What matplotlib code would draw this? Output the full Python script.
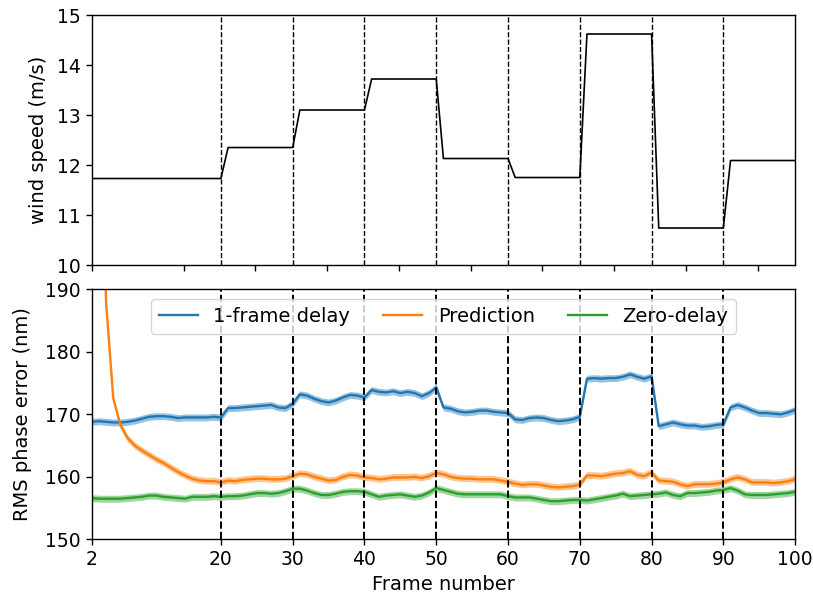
import numpy as np
import matplotlib
matplotlib.use("Agg")
import matplotlib.pyplot as plt

# ---- data ----
wind_frames = [2, 20, 21, 30, 31, 40, 41, 50, 51, 60, 61, 70, 71, 80, 81, 90, 91, 100]
wind_speed = [11.73, 11.73, 12.35, 12.35, 13.10, 13.10, 13.72, 13.72, 12.13, 12.13,
              11.75, 11.75, 14.62, 14.62, 10.74, 10.74, 12.09, 12.09]

frames = list(range(2, 101))

delay_1frame = [168.8, 168.9, 168.8, 168.7, 168.7, 168.8, 169.0, 169.3, 169.6, 169.7,
                169.7, 169.6, 169.4, 169.5, 169.5, 169.5, 169.5, 169.6, 169.5, 171.0,
                171.0, 171.1, 171.2, 171.3, 171.4, 171.5, 171.1, 171.0, 171.7, 173.2,
                173.0, 172.5, 172.1, 171.9, 172.2, 172.7, 173.1, 173.0, 172.7, 173.9,
                173.6, 173.5, 173.7, 173.4, 173.6, 173.4, 172.9, 173.4, 174.3, 171.1,
                170.9, 170.5, 170.3, 170.4, 170.6, 170.6, 170.4, 170.3, 170.2, 169.2,
                169.1, 169.4, 169.5, 169.4, 169.1, 168.9, 169.0, 169.2, 169.6, 175.7,
                175.8, 175.7, 175.8, 175.8, 176.0, 176.4, 176.0, 175.7, 176.1, 168.1,
                168.4, 168.7, 168.4, 168.2, 168.2, 168.0, 168.1, 168.3, 168.4, 171.1,
                171.5, 171.1, 170.6, 170.2, 170.2, 170.1, 170.0, 170.3, 170.7]

prediction = [300.0, 235.0, 188.0, 172.6, 168.3, 166.2, 165.0, 164.2, 163.5, 162.8,
              162.2, 161.5, 160.8, 160.2, 159.7, 159.4, 159.3, 159.3, 159.1, 159.4,
              159.3, 159.5, 159.6, 159.7, 159.7, 159.6, 159.6, 159.7, 160.1, 160.5,
              160.4, 160.0, 159.7, 159.4, 159.5, 160.0, 160.3, 160.2, 159.9, 159.8,
              159.6, 159.7, 159.9, 159.9, 159.9, 160.0, 159.8, 160.1, 160.6, 160.4,
              160.0, 159.8, 159.7, 159.7, 159.6, 159.6, 159.6, 159.4, 159.2, 158.9,
              158.7, 158.8, 158.8, 158.6, 158.4, 158.3, 158.4, 158.5, 158.7, 160.2,
              160.2, 160.1, 160.3, 160.5, 160.6, 160.9, 160.3, 160.1, 160.7, 159.4,
              159.3, 159.2, 158.8, 158.5, 158.8, 158.8, 158.8, 158.9, 159.1, 159.6,
              159.9, 159.6, 159.1, 159.1, 159.1, 159.0, 159.1, 159.3, 159.6]

zero_delay = [156.6, 156.5, 156.5, 156.5, 156.5, 156.6, 156.7, 156.8, 157.0, 157.0,
              156.8, 156.7, 156.6, 156.5, 156.8, 156.8, 156.8, 156.9, 156.8, 156.9,
              156.9, 157.0, 157.2, 157.4, 157.4, 157.3, 157.4, 157.7, 158.1, 158.1,
              157.8, 157.4, 157.1, 157.1, 157.3, 157.6, 157.7, 157.7, 157.6, 157.2,
              156.8, 157.0, 157.1, 157.2, 157.0, 156.8, 157.0, 157.5, 158.2, 157.9,
              157.6, 157.3, 157.2, 157.2, 157.2, 157.2, 157.2, 157.2, 156.9, 156.7,
              156.7, 156.7, 156.5, 156.3, 156.1, 156.1, 156.2, 156.3, 156.3, 156.2,
              156.4, 156.6, 156.8, 157.0, 157.3, 156.9, 157.0, 157.1, 157.2, 157.3,
              157.5, 157.1, 156.9, 157.4, 157.4, 157.5, 157.6, 157.8, 157.9, 158.2,
              157.8, 157.2, 157.1, 157.1, 157.1, 157.2, 157.3, 157.4, 157.6]

band_halfwidth = 0.55

series_labels = ["1-frame delay", "Prediction", "Zero-delay"]
series_colors = ["#1f77b4", "#ff7f0e", "#2ca02c"]
bottom_xticks = [2, 20, 30, 40, 50, 60, 70, 80, 90, 100]
top_xticks = [2, 14.8, 24.8, 34.8, 44.8, 54.8, 64.8, 74.8, 84.8, 94.8]
change_frames = [20, 30, 40, 50, 60, 70, 80, 90]

# ---- figure ----
plt.rcParams['font.family'] = ['DejaVu Sans']
plt.rcParams['font.size'] = 14
fig = plt.figure(figsize=(8.13, 6.03), dpi=100)
ax1 = fig.add_axes([0.1128, 0.5605, 0.978 - 0.1128, 0.9751 - 0.5605])
ax2 = fig.add_axes([0.1128, 0.1056, 0.978 - 0.1128, 0.5202 - 0.1056])

for ax in (ax1, ax2):
    for s in ax.spines.values():
        s.set_linewidth(1.0)
    ax.tick_params(width=1.0, length=4.5, labelsize=13.5)

ax1.plot(wind_frames, wind_speed, color='black', lw=1.2)
for f in change_frames:
    ax1.axvline(f, color='black', ls='--', lw=1.0)
ax1.set_xlim(2, 100)
ax1.set_ylim(10, 15)
ax1.set_xticks(top_xticks)
ax1.set_xticklabels([])
ax1.set_yticks([10, 11, 12, 13, 14, 15])
ax1.set_ylabel("wind speed (m/s)", fontsize=14, labelpad=6)

x = np.array(frames)
for data, lab, col in zip([delay_1frame, prediction, zero_delay], series_labels, series_colors):
    y = np.array(data)
    ax2.plot(x, y, color=col, lw=1.7, label=lab)
    ax2.fill_between(x, y - band_halfwidth, y + band_halfwidth, color=col, alpha=0.45, lw=0)
for f in change_frames:
    ax2.axvline(f, color='black', ls='--', lw=1.4)
ax2.set_xlim(2, 100)
ax2.set_ylim(150, 190)
ax2.set_yticks([150, 160, 170, 180, 190])
ax2.set_xticks(bottom_xticks)
ax2.set_xlabel("Frame number", fontsize=14)
ax2.set_ylabel("RMS phase error (nm)", fontsize=14, labelpad=9)
ax2.legend(loc='upper center', ncol=3, fontsize=14, framealpha=0.8,
           columnspacing=1.7, handlelength=2.0)

fig.savefig("out.png", dpi=100)
